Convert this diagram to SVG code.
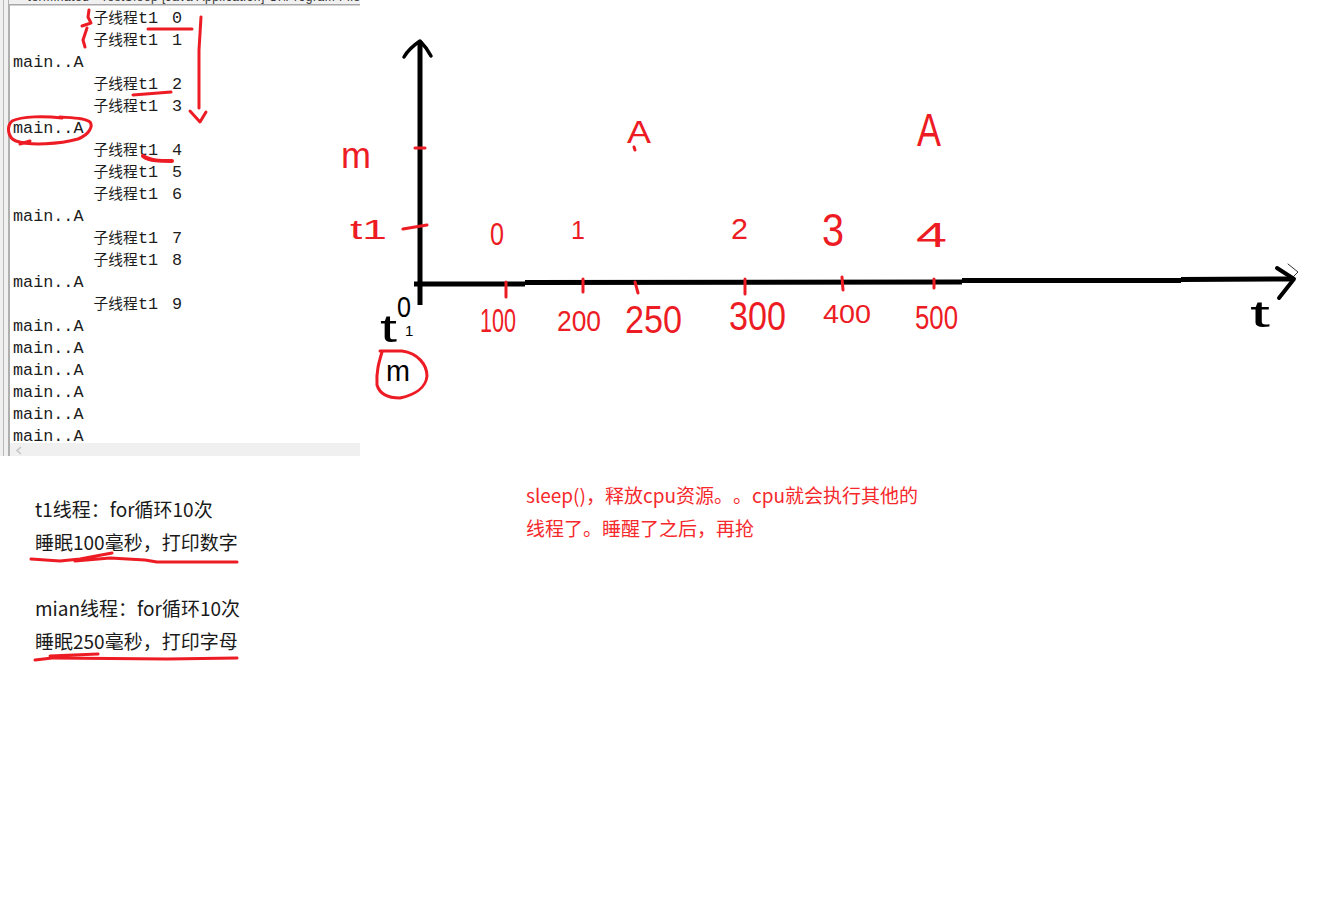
<svg xmlns="http://www.w3.org/2000/svg" width="1328" height="912" viewBox="0 0 1328 912">
<style>
.m{font-family:"Liberation Mono","DejaVu Sans Mono",monospace;font-size:16.8px;fill:#1c1c1c}
.c{font-family:"Noto Sans CJK SC","Liberation Sans",sans-serif;font-size:14.7px;fill:#1c1c1c}
.n{font-family:"Noto Sans CJK SC",sans-serif;font-size:19px;fill:#1a1a1a;text-spacing-trim:space-all}
.r{font-family:"Noto Sans CJK SC",sans-serif;font-size:19px;fill:#f5292c;text-spacing-trim:space-all}
.h{font-family:"Liberation Sans",sans-serif;fill:#ed1c24}
.k{font-family:"Liberation Sans",sans-serif;fill:#000}
.sr{fill:none;stroke:#ed1c24;stroke-width:3;stroke-linecap:round;stroke-linejoin:round}
.sk{fill:none;stroke:#000;stroke-linecap:round;stroke-linejoin:round}
</style>
<defs><clipPath id="con"><rect x="0" y="0" width="360" height="443"/></clipPath></defs>
<rect width="1328" height="912" fill="#fff"/>
<g id="console">
<rect x="0" y="0" width="9" height="456" fill="#f0f0f0"/>
<rect x="3" y="0" width="1" height="456" fill="#b8b8b8"/>
<rect x="8" y="0" width="2" height="456" fill="#b0b0b0"/>
<rect x="9" y="0" width="351" height="4" fill="#f0f0f0"/>
<rect x="9" y="4" width="351" height="1.5" fill="#a8a8a8"/>
<text x="20" y="1" font-family="Liberation Sans,sans-serif" font-size="12" fill="#333" textLength="340">&lt;terminated&gt; TestSleep [Java Application] C:\Program File</text>
<g clip-path="url(#con)">
<text class="c" x="93.500" y="23">子线程</text><text class="m" x="138" y="23">t1</text><text class="m" x="172" y="23">0</text>
<text class="c" x="93.500" y="45">子线程</text><text class="m" x="138" y="45">t1</text><text class="m" x="172" y="45">1</text>
<text class="m" x="13" y="67">main..A</text>
<text class="c" x="93.500" y="89">子线程</text><text class="m" x="138" y="89">t1</text><text class="m" x="172" y="89">2</text>
<text class="c" x="93.500" y="111">子线程</text><text class="m" x="138" y="111">t1</text><text class="m" x="172" y="111">3</text>
<text class="m" x="13" y="133">main..A</text>
<text class="c" x="93.500" y="155">子线程</text><text class="m" x="138" y="155">t1</text><text class="m" x="172" y="155">4</text>
<text class="c" x="93.500" y="177">子线程</text><text class="m" x="138" y="177">t1</text><text class="m" x="172" y="177">5</text>
<text class="c" x="93.500" y="199">子线程</text><text class="m" x="138" y="199">t1</text><text class="m" x="172" y="199">6</text>
<text class="m" x="13" y="221">main..A</text>
<text class="c" x="93.500" y="243">子线程</text><text class="m" x="138" y="243">t1</text><text class="m" x="172" y="243">7</text>
<text class="c" x="93.500" y="265">子线程</text><text class="m" x="138" y="265">t1</text><text class="m" x="172" y="265">8</text>
<text class="m" x="13" y="287">main..A</text>
<text class="c" x="93.500" y="309">子线程</text><text class="m" x="138" y="309">t1</text><text class="m" x="172" y="309">9</text>
<text class="m" x="13" y="331">main..A</text>
<text class="m" x="13" y="353">main..A</text>
<text class="m" x="13" y="375">main..A</text>
<text class="m" x="13" y="397">main..A</text>
<text class="m" x="13" y="419">main..A</text>
<text class="m" x="13" y="441">main..A</text>
</g>
<rect x="10" y="443" width="350" height="13" fill="#f0f0f0"/>
<path d="M21,447 L17,450.500 L21,454" fill="none" stroke="#c4c4c4" stroke-width="1.500"/>
</g>
<g id="console-marks" class="sr">
<path d="M89,10 L88,17 L91,23 L82,26"/>
<path d="M87,28 L83,40 L85,47"/>
<path d="M148,29 L192,29"/>
<path d="M201,17 L199,50 L199,108 M190,111 L200,122 L206,112"/>
<path d="M133,95 L171,92"/>
<path d="M62,118 C45,116 22,116 12,121 C6,127 8,138 16,141 C30,146 60,144 78,139 C90,134 93,126 90,122 C85,118 75,118 60,117"/>
<path d="M20,144 L30,141"/>
<path d="M143,156 C150,161 160,161 172,161" stroke-width="4"/>
<path d="M31,559 L60,561 L80,559 L112,553 M75,561 L110,558 L145,560 L157,562 L237,562"/>
<path d="M35,660 L52,658 M50,656 L98,654 M53,658 L167,659 L237,658"/>
</g>
<g id="notes">
<text class="n" x="35" y="517">t1线程：for循环10次</text>
<text class="n" x="35" y="550">睡眠100毫秒，打印数字</text>
<text class="n" x="35" y="616">mian线程：for循环10次</text>
<text class="n" x="35" y="649">睡眠250毫秒，打印字母</text>
<text class="r" x="526" y="503">sleep()，释放cpu资源。。cpu就会执行其他的</text>
<text class="r" x="526" y="536">线程了。睡醒了之后，再抢</text>
</g>
<g id="axes">
<path class="sk" stroke-width="5" style="stroke-linecap:butt" d="M420,41 L420,305"/>
<path class="sk" stroke-width="3.500" d="M404,57 C408,50 414,45 420,41 C424,45 428,50 431,56"/>
<path class="sk" stroke-width="5" style="stroke-linecap:butt" d="M414,284 L525,284 M525,282.500 L962,282 M962,280.500 L1181,280.500 M1181,279.500 L1294,279"/>
<path class="sk" stroke-width="4" d="M1277,268 L1294,279 L1279,298"/>
<path class="sk" stroke-width="0.800" d="M1288,264 L1298,272 L1294,276"/>
</g>
<g id="ticks" class="sr">
<path d="M415,148 L425,148"/>
<path d="M403,229 L427,225"/>
<path d="M506,282 L506,297"/>
<path d="M583,279 L583,292"/>
<path d="M635,282 L638,293"/>
<path d="M745,279 L745,294"/>
<path d="M842,277 L843,290"/>
<path d="M934,279 L934,288"/>
<path d="M634,147 L635,150"/>
</g>
<g id="labels">
<text class="h" x="341" y="168" font-size="36" textLength="30" lengthAdjust="spacingAndGlyphs">m</text>
<text class="h" x="350" y="239" font-size="27" textLength="37" lengthAdjust="spacingAndGlyphs">t1</text>
<text class="h" x="490" y="245" font-size="32" textLength="14" lengthAdjust="spacingAndGlyphs">0</text>
<text class="h" x="571" y="239" font-size="25">1</text>
<text class="h" x="627" y="143" font-size="32" textLength="24" lengthAdjust="spacingAndGlyphs">A</text>
<text class="h" x="917" y="146" font-size="46" textLength="24" lengthAdjust="spacingAndGlyphs">A</text>
<text class="h" x="731" y="239" font-size="30" textLength="17" lengthAdjust="spacingAndGlyphs">2</text>
<text class="h" x="822" y="246" font-size="47" textLength="22" lengthAdjust="spacingAndGlyphs">3</text>
<text class="h" x="916" y="247" font-size="35" textLength="31" lengthAdjust="spacingAndGlyphs">4</text>
<text class="h" x="480" y="332" font-size="34" textLength="36" lengthAdjust="spacingAndGlyphs">100</text>
<text class="h" x="557" y="331" font-size="30" textLength="44" lengthAdjust="spacingAndGlyphs">200</text>
<text class="h" x="625" y="333" font-size="38" textLength="57" lengthAdjust="spacingAndGlyphs">250</text>
<text class="h" x="729" y="330" font-size="40" textLength="57" lengthAdjust="spacingAndGlyphs">300</text>
<text class="h" x="823" y="323" font-size="25" textLength="48" lengthAdjust="spacingAndGlyphs">400</text>
<text class="h" x="915" y="329" font-size="33" textLength="43" lengthAdjust="spacingAndGlyphs">500</text>
<text class="k" x="397" y="317" font-size="30" textLength="14" lengthAdjust="spacingAndGlyphs">0</text>
<text class="k" x="380" y="342" font-size="38" textLength="17" lengthAdjust="spacingAndGlyphs">t</text>
<text class="k" x="405" y="336" font-size="15">1</text>
<text class="k" x="386" y="381" font-size="30" textLength="24" lengthAdjust="spacingAndGlyphs">m</text>
<text class="k" x="1250" y="327" font-size="36" textLength="20" lengthAdjust="spacingAndGlyphs">t</text>
<path class="sr" d="M380,351 L402,351 C418,353 427,365 427,376 C426,388 414,395 400,398 C390,398 380,395 377,385 C376,372 379,362 382,352"/>
</g>
</svg>
